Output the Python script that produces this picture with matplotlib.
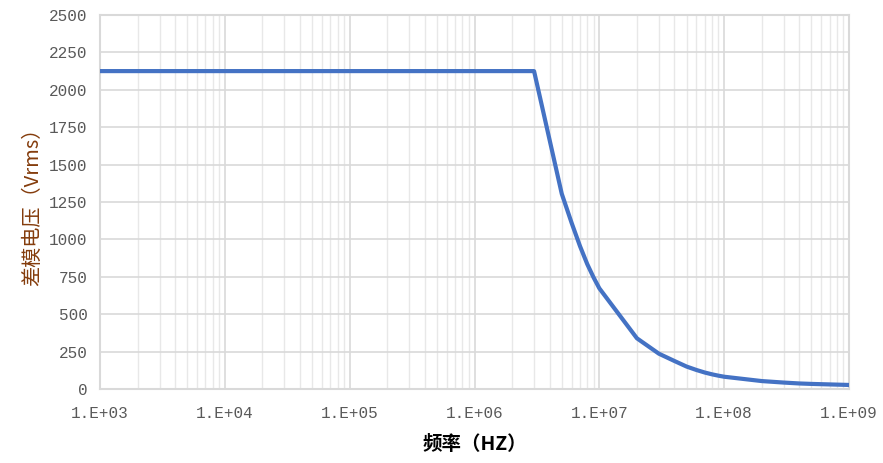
import matplotlib
matplotlib.use("Agg")
import matplotlib.pyplot as plt
from matplotlib.ticker import FixedLocator, LogLocator, NullFormatter

# Data (frequency in Hz, differential-mode voltage in Vrms)
freq = [1e3, 1e4, 1e5, 1e6, 3e6, 5e6, 6e6, 7e6, 8e6, 9e6, 1e7, 2e7, 3e7, 4e7,
        5e7, 6e7, 7e7, 8e7, 9e7, 1e8, 2e8, 3e8, 4e8, 5e8, 1e9]
volt = [2125, 2125, 2125, 2125, 2125, 1305, 1110, 955, 835, 745, 673, 339, 236, 187,
        150, 127, 110, 98, 89, 82, 53, 43, 37, 34, 27]

xticks = [1e3, 1e4, 1e5, 1e6, 1e7, 1e8, 1e9]
xticklabels = ["1.E+03", "1.E+04", "1.E+05", "1.E+06", "1.E+07", "1.E+08", "1.E+09"]
yticks = [0, 250, 500, 750, 1000, 1250, 1500, 1750, 2000, 2250, 2500]

xlabel = "频率（HZ）"
ylabel = "差模电压（Vrms）"

fig = plt.figure(figsize=(8.83, 4.63), dpi=100)
ax = fig.add_axes([100/883, 1-389/463, (849-100)/883, (389-15)/463])

ax.plot(freq, volt, color="#4472C4", linewidth=3.0, solid_joinstyle="round", zorder=3)

ax.set_xscale("log")
ax.set_xlim(1e3, 1e9)
ax.set_ylim(0, 2500)
ax.xaxis.set_major_locator(FixedLocator(xticks))
ax.xaxis.set_minor_locator(LogLocator(base=10, subs=range(2, 10), numticks=20))
ax.xaxis.set_minor_formatter(NullFormatter())
ax.set_xticks(xticks)
ax.set_xticklabels(xticklabels)
ax.set_yticks(yticks)

tickfam = ["Liberation Mono", "DejaVu Sans Mono"]
for lab in ax.get_xticklabels() + ax.get_yticklabels():
    lab.set_fontfamily(tickfam)
    lab.set_fontsize(11.5)
    lab.set_color("#595959")

ax.tick_params(axis="both", which="both", length=0)
ax.tick_params(axis="x", pad=12)
ax.tick_params(axis="y", pad=9)

ax.grid(True, which="major", axis="both", color="#D9D9D9", linewidth=1.2, zorder=0)
ax.grid(True, which="minor", axis="x", color="#E8E8E8", linewidth=1.0, zorder=0)
ax.set_axisbelow(True)

for s in ax.spines.values():
    s.set_color("#D9D9D9")
    s.set_linewidth(1.5)

ax.set_xlabel(xlabel, fontfamily=["Noto Sans CJK SC", "DejaVu Sans"], fontsize=14,
              fontweight="bold", color="#000000", labelpad=10)
ax.set_ylabel(ylabel, fontfamily=["Noto Sans CJK SC", "DejaVu Sans"], fontsize=14.5,
              color="#843C0C", labelpad=4)

fig.savefig("out.png", dpi=100)
